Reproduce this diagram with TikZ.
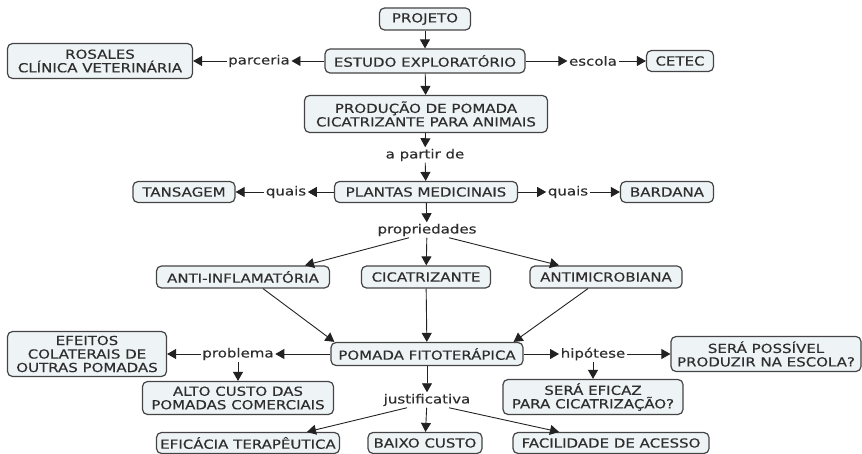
\documentclass[tikz,border=0pt]{standalone}
\usepackage{fontspec}
\newfontfamily\mapfont[FakeStretch=1.2,FakeBold=0.35]{DejaVu Sans}
\usetikzlibrary{arrows.meta,calc}
\definecolor{boxfill}{HTML}{EEF3F6}
\definecolor{boxline}{HTML}{444444}
\definecolor{txt}{HTML}{2E2E2E}
\definecolor{linkc}{HTML}{222222}
\begin{document}
\begin{tikzpicture}[x=1pt,y=-1pt,
  concept/.style={draw=boxline, line width=1.2pt, fill=boxfill, rounded corners=5pt, align=center,
    font=\mapfont\fontsize{12.5}{13.5}\selectfont, text=txt, inner xsep=3pt, inner ysep=2pt, minimum height=22pt},
  linkw/.style={font=\mapfont\fontsize{12.5}{13.5}\selectfont, text=txt, inner sep=1.5pt},
  arr/.style={draw=linkc, line width=0.9pt, -{Triangle[length=9pt,width=10pt]}},
]
\useasboundingbox (0,0) rectangle (862,454);
% concepts
\node[concept, minimum width=91pt] (projeto) at (425,19) {PROJETO};
\node[concept, minimum width=200pt, minimum height=24pt] (estudo) at (425,61) {ESTUDO EXPLORATÓRIO};
\node[concept, minimum width=185pt, minimum height=35pt] (rosales) at (100,61) {ROSALES\\CLÍNICA VETERINÁRIA};
\node[concept, minimum width=67pt, minimum height=21pt] (cetec) at (680,61) {CETEC};
\node[concept, minimum width=243pt, minimum height=37pt] (prod) at (426,114) {PRODUÇÃO DE POMADA\\CICATRIZANTE PARA ANIMAIS};
\node[concept, minimum width=183pt, minimum height=21pt] (plantas) at (426,192) {PLANTAS MEDICINAIS};
\node[concept, minimum width=102pt, minimum height=21pt] (tans) at (184,192) {TANSAGEM};
\node[concept, minimum width=93pt, minimum height=21pt] (bardana) at (667,192) {BARDANA};
\node[concept, minimum width=173pt] (anti) at (243,277) {ANTI-INFLAMATÓRIA};
\node[concept, minimum width=129pt] (cica) at (426,277) {CICATRIZANTE};
\node[concept, minimum width=152pt] (antimic) at (606,277) {ANTIMICROBIANA};
\node[concept, minimum width=192pt, minimum height=23pt] (pomada) at (427,354) {POMADA FITOTERÁPICA};
\node[concept, minimum width=159pt, minimum height=45pt] (efeitos) at (87,354) {EFEITOS\\COLATERAIS DE\\OUTRAS POMADAS};
\node[concept, minimum width=191pt, minimum height=33pt] (alto) at (238,398) {ALTO CUSTO DAS\\POMADAS COMERCIAIS};
\node[concept, minimum width=190pt, minimum height=35pt] (possivel) at (766,354) {SERÁ POSSÍVEL\\PRODUZIR NA ESCOLA?};
\node[concept, minimum width=180pt, minimum height=35pt] (eficaz) at (593,397) {SERÁ EFICAZ\\PARA CICATRIZAÇÃO?};
\node[concept, minimum width=183pt, minimum height=21pt] (efic) at (248,443) {EFICÁCIA TERAPÊUTICA};
\node[concept, minimum width=114pt, minimum height=21pt] (baixo) at (425,443) {BAIXO CUSTO};
\node[concept, minimum width=196pt, minimum height=21pt] (facil) at (611,443) {FACILIDADE DE ACESSO};
% linking phrases
\node[linkw] (parceria) at (259,61) {parceria};
\node[linkw] (escola) at (593,61) {escola};
\node[linkw] (apartir) at (425,155) {a partir de};
\node[linkw] (quaisL) at (286,192) {quais};
\node[linkw] (quaisR) at (568,192) {quais};
\node[linkw] (prop) at (427,230) {propriedades};
\node[linkw] (problema) at (238,354) {problema};
\node[linkw] (hipotese) at (593,354) {hipótese};
\node[linkw] (justif) at (427,400) {justificativa};
% connectors
\draw[arr] (projeto) -- (estudo);
\draw[arr] (estudo) -- (parceria);
\draw[arr] (parceria) -- (rosales);
\draw[arr] (estudo) -- (escola);
\draw[arr] (escola) -- (cetec);
\draw[arr] (estudo) -- (prod);
\draw[arr] (prod) -- (apartir);
\draw[arr] (apartir) -- (plantas);
\draw[arr] (plantas) -- (quaisL);
\draw[arr] (quaisL) -- (tans);
\draw[arr] (plantas) -- (quaisR);
\draw[arr] (quaisR) -- (bardana);
\draw[arr] (plantas) -- (prop);
\draw[arr] ($(prop.south)+(-18,0)$) -- ($(anti.north)+(62,0)$);
\draw[arr] (prop) -- (cica);
\draw[arr] ($(prop.south)+(22,0)$) -- ($(antimic.north)+(-47,0)$);
\draw[arr] ($(anti.south)+(20,0)$) -- ($(pomada.north west)+(4,0)$);
\draw[arr] (cica) -- (pomada);
\draw[arr] ($(antimic.south)+(-18,0)$) -- ($(pomada.north east)+(-10,0)$);
\draw[arr] (pomada) -- (problema);
\draw[arr] (problema) -- (efeitos);
\draw[arr] (problema) -- (alto);
\draw[arr] (pomada) -- (hipotese);
\draw[arr] (hipotese) -- (possivel);
\draw[arr] (hipotese) -- (eficaz);
\draw[arr] (pomada) -- (justif);
\draw[arr] ($(justif.south)+(-20,0)$) -- ($(efic.north)+(59,0)$);
\draw[arr] (justif) -- (baixo);
\draw[arr] ($(justif.south)+(22,0)$) -- ($(facil.north)+(-52,0)$);
\end{tikzpicture}
\end{document}
